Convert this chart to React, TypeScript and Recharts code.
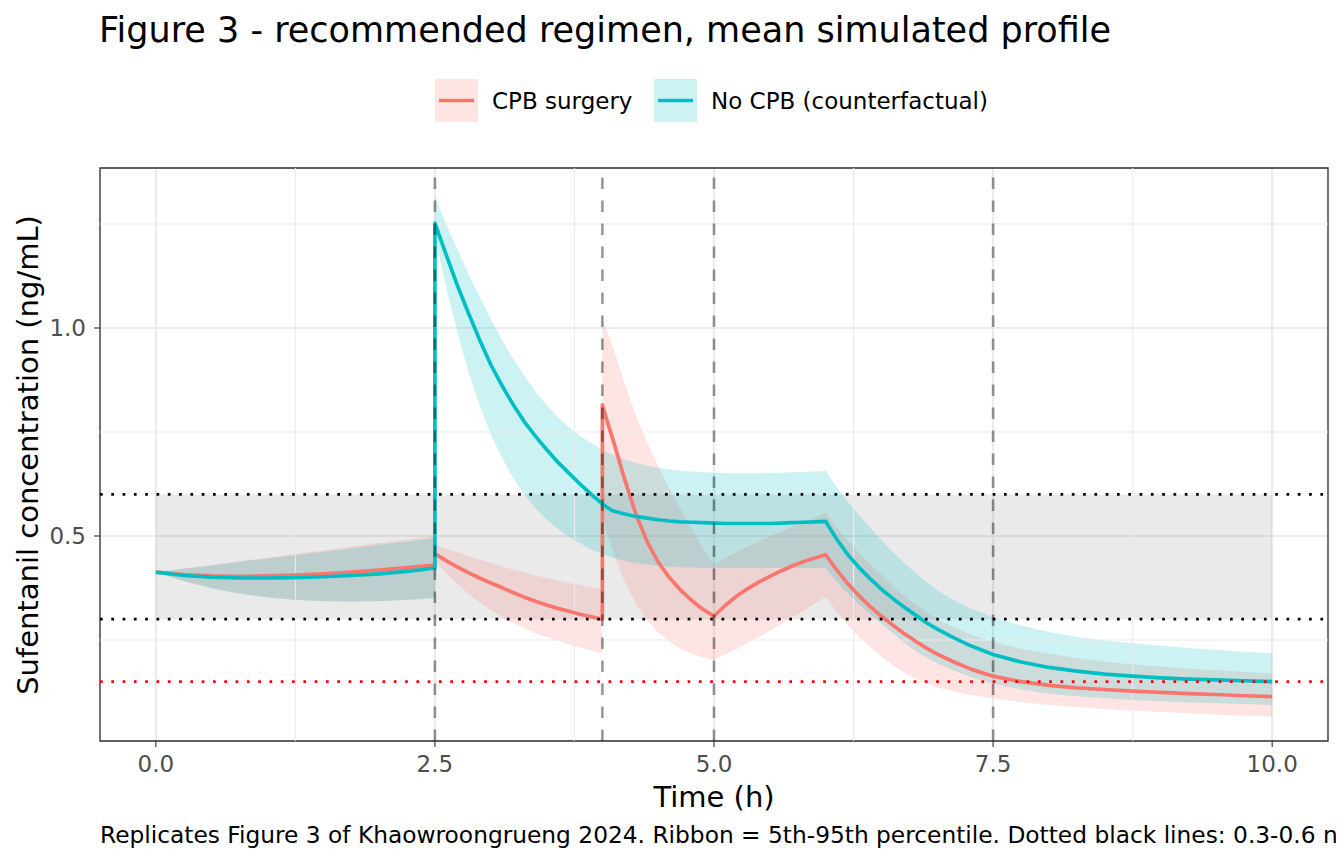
import React from 'react'
import {
  ComposedChart, Area, Line, XAxis, YAxis, CartesianGrid, ReferenceArea, ReferenceLine,
} from 'recharts'

// time grid (h); repeated values mark the bolus jumps at 2.5 h and 4 h
const TIME = [
  0, 0.25, 0.5, 0.75, 1.0, 1.25, 1.5, 1.75, 2.0, 2.25, 2.5,
  2.5, 2.55, 2.6, 2.7, 2.8, 2.9, 3.0, 3.1, 3.2, 3.3, 3.4, 3.5, 3.6, 3.7, 3.8, 3.9, 4.0,
  4.0, 4.05, 4.1, 4.2, 4.3, 4.4, 4.5, 4.6, 4.7, 4.8, 4.9, 5.0,
  5.1, 5.2, 5.3, 5.4, 5.5, 5.6, 5.7, 5.8, 5.9, 6.0,
  6.1, 6.2, 6.3, 6.4, 6.5, 6.6, 6.7, 6.8, 6.9, 7.0, 7.15, 7.3, 7.5, 7.75, 8.0, 8.25, 8.5, 8.75, 9.0, 9.25, 9.5, 9.75, 10.0,
]

const CPB_MEAN = [
  0.413, 0.407, 0.404, 0.403, 0.404, 0.406, 0.409, 0.413, 0.418, 0.424, 0.430,
  0.458, 0.449, 0.441, 0.426, 0.412, 0.399, 0.387, 0.376, 0.364, 0.353, 0.343, 0.334, 0.326, 0.319, 0.312, 0.306, 0.300,
  0.815, 0.770, 0.727, 0.636, 0.553, 0.487, 0.437, 0.400, 0.370, 0.345, 0.324, 0.307,
  0.333, 0.355, 0.373, 0.389, 0.403, 0.416, 0.428, 0.438, 0.447, 0.455,
  0.418, 0.385, 0.356, 0.330, 0.307, 0.286, 0.266, 0.248, 0.231, 0.216, 0.197, 0.180, 0.163, 0.150, 0.141, 0.135, 0.131, 0.127, 0.124, 0.121, 0.119, 0.116, 0.114,
]
const CPB_LO = [
  0.413, 0.392, 0.375, 0.362, 0.353, 0.347, 0.344, 0.343, 0.344, 0.347, 0.352,
  0.440, 0.425, 0.411, 0.385, 0.362, 0.341, 0.322, 0.306, 0.291, 0.278, 0.267, 0.257, 0.248, 0.240, 0.232, 0.225, 0.218,
  0.55, 0.50, 0.458, 0.390, 0.338, 0.298, 0.268, 0.246, 0.229, 0.217, 0.208, 0.202,
  0.215, 0.228, 0.242, 0.257, 0.272, 0.288, 0.304, 0.320, 0.337, 0.354,
  0.317, 0.285, 0.257, 0.232, 0.210, 0.190, 0.172, 0.158, 0.146, 0.136, 0.126, 0.118, 0.110, 0.101, 0.094, 0.089, 0.084, 0.080, 0.077, 0.074, 0.071, 0.068, 0.066,
]
const CPB_HI = [
  0.413, 0.422, 0.430, 0.439, 0.448, 0.457, 0.465, 0.474, 0.483, 0.491, 0.500,
  0.480, 0.475, 0.470, 0.461, 0.452, 0.443, 0.435, 0.427, 0.419, 0.412, 0.405, 0.399, 0.393, 0.387, 0.382, 0.377, 0.372,
  1.02, 0.985, 0.95, 0.866, 0.79, 0.725, 0.668, 0.614, 0.565, 0.518, 0.472, 0.432,
  0.447, 0.461, 0.474, 0.487, 0.499, 0.511, 0.522, 0.533, 0.544, 0.555,
  0.52, 0.488, 0.459, 0.432, 0.407, 0.38, 0.357, 0.336, 0.317, 0.300, 0.280, 0.263, 0.245, 0.229, 0.217, 0.206, 0.198, 0.191, 0.186, 0.181, 0.177, 0.173, 0.170,
]

const NOCPB_MEAN = [
  0.413, 0.405, 0.401, 0.399, 0.399, 0.400, 0.402, 0.405, 0.409, 0.415, 0.423,
  1.252, 1.214, 1.177, 1.103, 1.036, 0.972, 0.912, 0.862, 0.816, 0.775, 0.740, 0.708, 0.678, 0.651, 0.625, 0.600, 0.577,
  0.577, 0.567, 0.560, 0.553, 0.547, 0.543, 0.539, 0.536, 0.534, 0.533, 0.532, 0.531,
  0.530, 0.530, 0.530, 0.530, 0.530, 0.531, 0.532, 0.533, 0.534, 0.535,
  0.492, 0.455, 0.424, 0.397, 0.372, 0.350, 0.330, 0.311, 0.292, 0.276, 0.255, 0.236, 0.215, 0.197, 0.184, 0.175, 0.168, 0.163, 0.159, 0.156, 0.154, 0.152, 0.150,
]
const NOCPB_LO = [
  0.413, 0.391, 0.374, 0.361, 0.352, 0.346, 0.343, 0.342, 0.343, 0.346, 0.350,
  1.222, 1.16, 1.10, 0.99, 0.895, 0.815, 0.745, 0.688, 0.640, 0.600, 0.567, 0.540, 0.517, 0.498, 0.482, 0.468, 0.457,
  0.457, 0.452, 0.447, 0.440, 0.435, 0.431, 0.428, 0.426, 0.425, 0.424, 0.423, 0.423,
  0.423, 0.423, 0.423, 0.423, 0.423, 0.423, 0.423, 0.423, 0.423, 0.423,
  0.39, 0.362, 0.336, 0.312, 0.289, 0.266, 0.244, 0.225, 0.208, 0.194, 0.176, 0.161, 0.145, 0.131, 0.121, 0.115, 0.110, 0.106, 0.103, 0.100, 0.098, 0.096, 0.094,
]
const NOCPB_HI = [
  0.413, 0.421, 0.429, 0.438, 0.446, 0.454, 0.462, 0.470, 0.479, 0.487, 0.495,
  1.317, 1.283, 1.25, 1.19, 1.13, 1.075, 1.022, 0.972, 0.926, 0.885, 0.848, 0.815, 0.786, 0.762, 0.741, 0.723, 0.707,
  0.707, 0.700, 0.694, 0.684, 0.676, 0.669, 0.664, 0.660, 0.657, 0.655, 0.653, 0.652,
  0.651, 0.651, 0.651, 0.651, 0.652, 0.652, 0.653, 0.654, 0.655, 0.657,
  0.618, 0.582, 0.55, 0.52, 0.49, 0.462, 0.436, 0.412, 0.39, 0.37, 0.345, 0.325, 0.304, 0.285, 0.269, 0.258, 0.249, 0.242, 0.236, 0.231, 0.226, 0.222, 0.218,
]

const X_TICKS = [0, 2.5, 5, 7.5, 10]
const Y_TICKS = [0.5, 1.0]
const X_MINOR = [1.25, 3.75, 6.25, 8.75]
const Y_MINOR = [0.25, 0.75, 1.25]
const DOSE_TIMES = [2.5, 4, 5, 7.5]
const TARGET_RANGE = [0.3, 0.6]
const LOW_LIMIT = 0.15

const SERIES = ['CPB surgery', 'No CPB (counterfactual)']
const RED = '#F8766D'
const TEAL = '#00BFC4'
const FONT = 'DejaVu Sans, Verdana, sans-serif'

const data = TIME.map((t, i) => ({
  t,
  cpb: CPB_MEAN[i],
  cpbBand: [CPB_LO[i], CPB_HI[i]],
  noCpb: NOCPB_MEAN[i],
  noCpbBand: [NOCPB_LO[i], NOCPB_HI[i]],
}))

const legendItems = [
  { label: SERIES[0], color: RED, x: 435 },
  { label: SERIES[1], color: TEAL, x: 654 },
]

export default function App() {
  return (
    <div style={{ position: 'relative', width: 1344, height: 864, margin: -8, background: '#fff', overflow: 'hidden', fontFamily: FONT }}>
      <ComposedChart
        width={1344}
        height={864}
        data={data}
        margin={{ top: 168, right: 16, bottom: 0, left: 0 }}
        style={{ fontFamily: FONT }}
      >
        <CartesianGrid stroke="#EBEBEB" strokeWidth={2.2} />
        {X_MINOR.map((x) => <ReferenceLine key={'xm' + x} x={x} stroke="#EBEBEB" strokeWidth={1.1} />)}
        {Y_MINOR.map((y) => <ReferenceLine key={'ym' + y} y={y} stroke="#EBEBEB" strokeWidth={1.1} />)}
        <XAxis
          type="number"
          dataKey="t"
          domain={[-0.5, 10.5]}
          ticks={X_TICKS}
          interval={0}
          height={123}
          allowDataOverflow
          axisLine={false}
          tickLine={{ stroke: '#333333', strokeWidth: 1.1 }}
          tickSize={6}
          tickMargin={9}
          tickFormatter={(v: number) => v.toFixed(1)}
          tick={{ fill: '#4D4D4D', fontSize: 23, fontFamily: FONT }}
        />
        <YAxis
          type="number"
          domain={[0.0072, 1.3846]}
          ticks={Y_TICKS}
          interval={0}
          width={100}
          allowDataOverflow
          axisLine={false}
          tickLine={{ stroke: '#333333', strokeWidth: 1.1 }}
          tickSize={6}
          tickMargin={8}
          tickFormatter={(v: number) => v.toFixed(1)}
          tick={{ fill: '#4D4D4D', fontSize: 23, fontFamily: FONT }}
        />
        <ReferenceArea x1={0} x2={10} y1={TARGET_RANGE[0]} y2={TARGET_RANGE[1]} fill="#808080" fillOpacity={0.17} stroke="none" />
        <Area dataKey="cpbBand" type="linear" stroke="none" fill={RED} fillOpacity={0.2} isAnimationActive={false} />
        <Area dataKey="noCpbBand" type="linear" stroke="none" fill={TEAL} fillOpacity={0.2} isAnimationActive={false} />
        <Line dataKey="cpb" type="linear" stroke={RED} strokeWidth={3.7} strokeLinejoin="round" dot={false} isAnimationActive={false} />
        <Line dataKey="noCpb" type="linear" stroke={TEAL} strokeWidth={3.7} strokeLinejoin="round" dot={false} isAnimationActive={false} />
        {TARGET_RANGE.map((y) => (
          <ReferenceLine key={'tr' + y} y={y} stroke="#000" strokeWidth={2.7} strokeDasharray="2.7 8.6" />
        ))}
        <ReferenceLine y={LOW_LIMIT} stroke="#FF0000" strokeWidth={2.7} strokeDasharray="2.7 8.6" />
        {DOSE_TIMES.map((x) => (
          <ReferenceLine key={'dt' + x} x={x} stroke="#000" strokeOpacity={0.4} strokeWidth={2.6} strokeDasharray="11.5 11.5" />
        ))}
        <ReferenceArea x1={-0.5} x2={10.5} y1={0.0072} y2={1.3846} fill="none" stroke="#333333" strokeWidth={1.3} ifOverflow="visible" />
      </ComposedChart>

      <svg width={1344} height={864} style={{ position: 'absolute', left: 0, top: 0, pointerEvents: 'none' }} fontFamily={FONT}>
        <text x={99} y={42} fontSize={35} fill="#000">Figure 3 - recommended regimen, mean simulated profile</text>
        {legendItems.map((it) => (
          <g key={it.label}>
            <rect x={it.x} y={79} width={43} height={43} fill={it.color} fillOpacity={0.2} />
            <line x1={it.x + 4} x2={it.x + 39} y1={100.5} y2={100.5} stroke={it.color} strokeWidth={3.7} />
            <text x={it.x + 57} y={108.5} fontSize={23} fill="#000">{it.label}</text>
          </g>
        ))}
        <text x={714} y={807} fontSize={29} textAnchor="middle" fill="#000">Time (h)</text>
        <text x={0} y={0} fontSize={29} textAnchor="middle" fill="#000" transform="translate(38 455) rotate(-90)">
          Sufentanil concentration (ng/mL)
        </text>
        <text x={100} y={843} fontSize={23.3} fill="#000">
          Replicates Figure 3 of Khaowroongrueng 2024. Ribbon = 5th-95th percentile. Dotted black lines: 0.3-0.6 ng/mL
        </text>
      </svg>
    </div>
  )
}
